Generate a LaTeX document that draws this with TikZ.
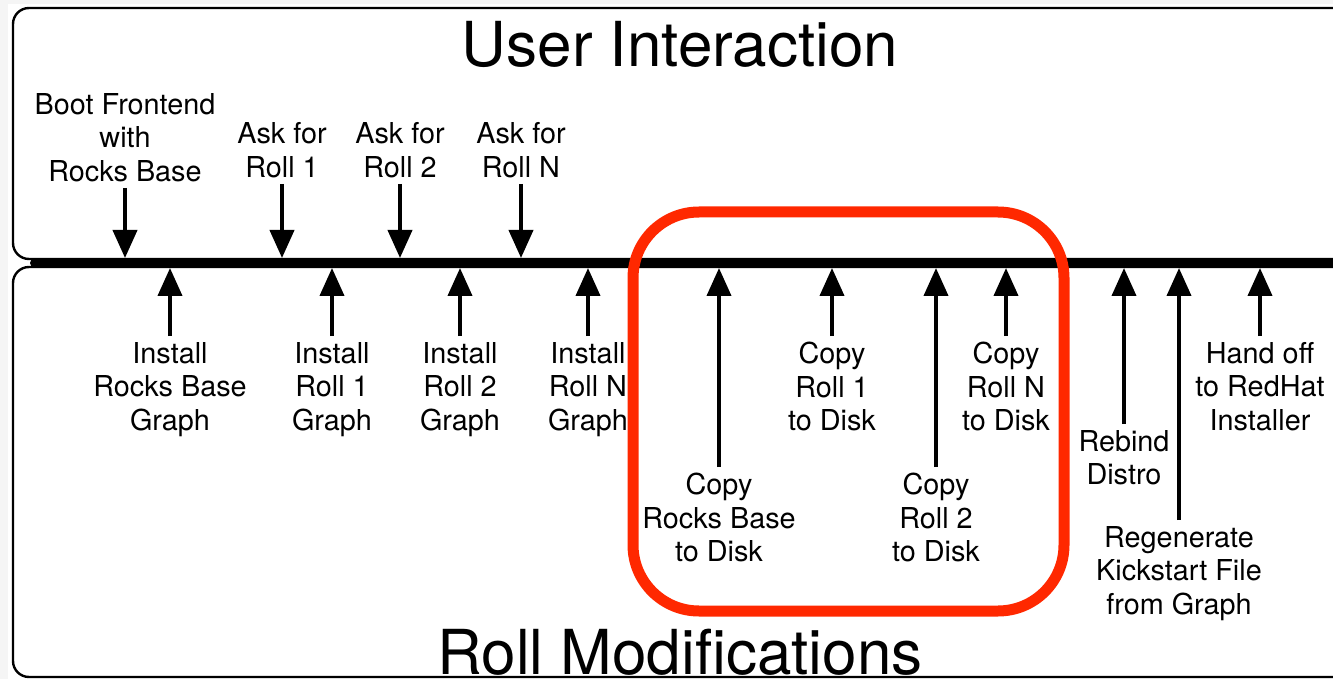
\documentclass[tikz,border=0pt]{standalone}
\usepackage{fontspec}
\setmainfont{TeX Gyre Heros}
\usetikzlibrary{arrows.meta}

\definecolor{rollred}{RGB}{255,40,0}

\tikzset{
	lbl/.style={align=center, inner sep=3pt, font=\fontsize{14.4}{16.7}\selectfont},
	uparr/.style={line width=2pt, -{Triangle[length=14pt,width=12pt]}},
	panel/.style={line width=1.2pt, rounded corners=8pt},
	title/.style={anchor=base, inner sep=0pt, font=\fontsize{31}{37}\selectfont}
}

\begin{document}
\begin{tikzpicture}[x=0.5pt,y=-0.5pt]
		\useasboundingbox (0,0) rectangle (1333,679);
		\fill[gray!8] (0,0) rectangle (1333,679);
		\fill[white] (8,4) rectangle (1333,679);
		
		% the two panels
		\draw[panel] (13,8) rectangle (1360,259);
		\draw[panel] (13,267) rectangle (1360,677);
		
		\node(ui) [title] at (680,67) {User Interaction};
		\node(rm) [title] at (680,674) {Roll Modifications};
		
		% time line
		\coordinate(tl0) at (35,263);
		\coordinate(tl1) at (1330,263);
		\coordinate(tltop) at (0,258);
		\coordinate(tlbot) at (0,268);
		\draw[line width=5pt, line cap=round] (tl0) -- (tl1);
		
		% user side
		\node(boot) [lbl, anchor=south] at (125,188) {Boot Frontend\\with\\Rocks Base};
		\node(ask1) [lbl, anchor=south] at (282,184) {Ask for\\Roll 1};
		\node(ask2) [lbl, anchor=south] at (400,184) {Ask for\\Roll 2};
		\node(askn) [lbl, anchor=south] at (521,184) {Ask for\\Roll N};
		
		% roll side
		\node(instb) [lbl, anchor=north] at (170,336) {Install\\Rocks Base\\Graph};
		\node(inst1) [lbl, anchor=north] at (332,336) {Install\\Roll 1\\Graph};
		\node(inst2) [lbl, anchor=north] at (460,336) {Install\\Roll 2\\Graph};
		\node(instn) [lbl, anchor=north] at (588,336) {Install\\Roll N\\Graph};
		\node(cpyb) [lbl, anchor=north] at (719,467) {Copy\\Rocks Base\\to Disk};
		\node(cpy1) [lbl, anchor=north] at (832,336) {Copy\\Roll 1\\to Disk};
		\node(cpy2) [lbl, anchor=north] at (936,467) {Copy\\Roll 2\\to Disk};
		\node(cpyn) [lbl, anchor=north] at (1006,336) {Copy\\Roll N\\to Disk};
		\node(rebind) [lbl, anchor=north] at (1124,424) {Rebind\\Distro};
		\node(regen) [lbl, anchor=north] at (1179,520) {Regenerate\\Kickstart File\\from Graph};
		\node(handoff) [lbl, anchor=north] at (1260,336) {Hand off\\to RedHat\\Installer};
		
		\foreach \n in {boot,ask1,ask2,askn}
			\draw[uparr] (\n.south) -- (\n.south |- tltop);
		\foreach \n in {instb,inst1,inst2,instn,cpyb,cpy1,cpy2,cpyn,rebind,regen,handoff}
			\draw[uparr] (\n.north) -- (\n.north |- tlbot);
		
		% copy steps
		\draw[rollred, line width=5.5pt, rounded corners=33pt] (633,212) rectangle (1064,611);
		
\end{tikzpicture}
\end{document}
